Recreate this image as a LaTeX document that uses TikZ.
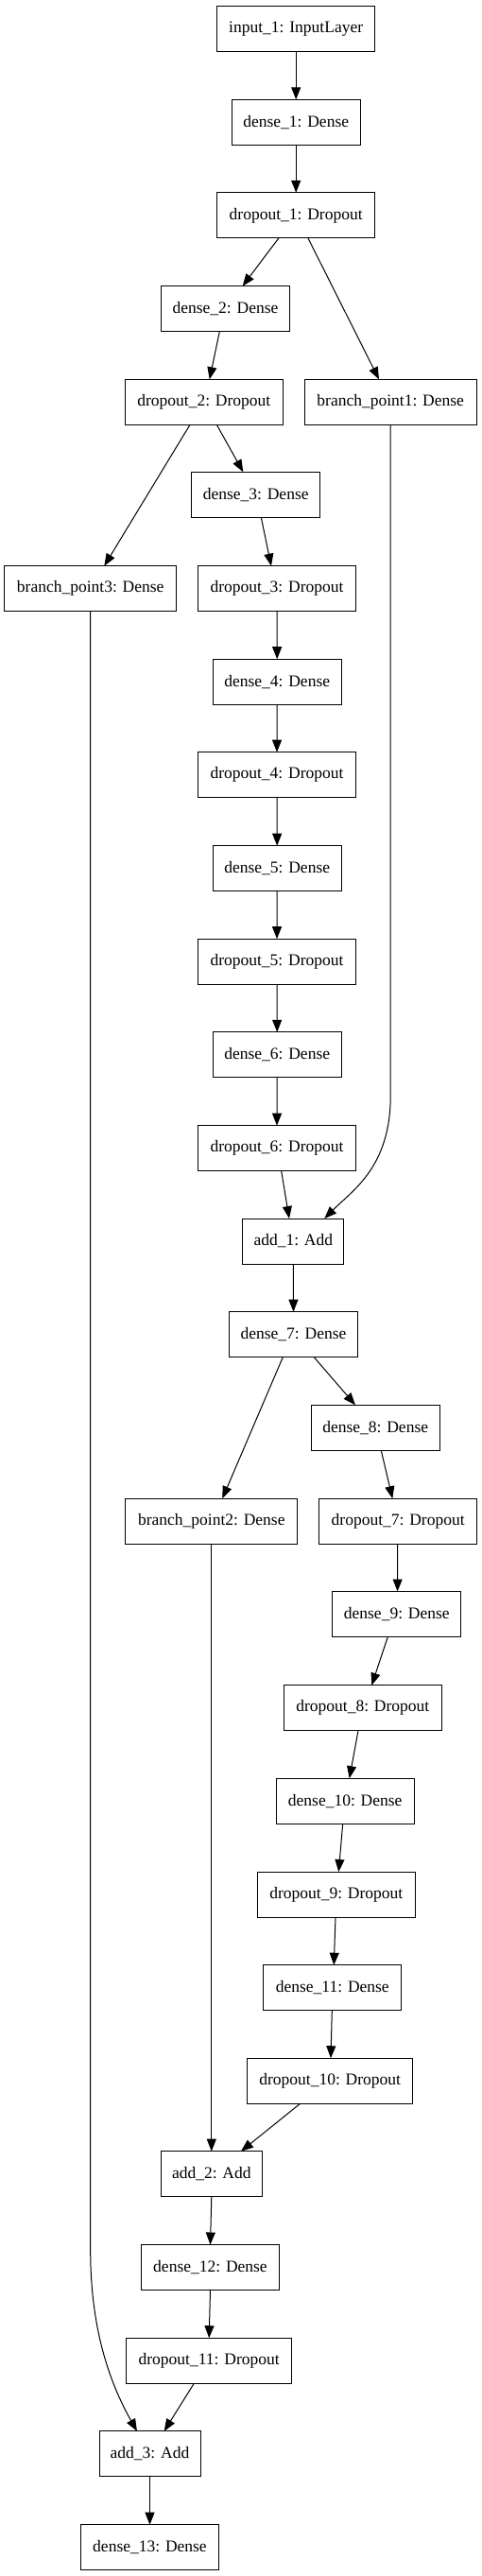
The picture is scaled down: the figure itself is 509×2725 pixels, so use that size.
\documentclass[tikz,border=0pt]{standalone}
\usepackage{fontspec}
\setmainfont{Liberation Serif}
\usetikzlibrary{arrows.meta}
\begin{document}
\begin{tikzpicture}[x=1pt,y=-1pt,
  layer/.style={draw=black, line width=1pt, rectangle, minimum height=48pt,
    inner sep=0pt, outer sep=0pt, font=\fontsize{17.5}{20}\selectfont},
  edge/.style={draw=black, line width=1pt, -{Triangle[length=13pt,width=10pt]}}]
\useasboundingbox (0,0) rectangle (509,2725);
% nodes
\node[layer, minimum width=167pt]   (input1)   at (313.2,30.3)   {input\_1: InputLayer};
\node[layer, minimum width=136.3pt] (dense1)   at (313.2,129.3)  {dense\_1: Dense};
\node[layer, minimum width=167pt]   (dropout1) at (313.2,227.8)  {dropout\_1: Dropout};
\node[layer, minimum width=136.3pt] (dense2)   at (238.5,326.7)  {dense\_2: Dense};
\node[layer, minimum width=167pt]   (dropout2) at (215.8,425.3)  {dropout\_2: Dropout};
\node[layer, minimum width=181.7pt] (bp1)      at (413.2,425.3)  {branch\_point1: Dense};
\node[layer, minimum width=136.3pt] (dense3)   at (270.7,523.3)  {dense\_3: Dense};
\node[layer, minimum width=181.7pt] (bp3)      at (95.7,622.7)   {branch\_point3: Dense};
\node[layer, minimum width=167pt]   (dropout3) at (293,622.7)    {dropout\_3: Dropout};
\node[layer, minimum width=136.3pt] (dense4)   at (293.2,721.2)  {dense\_4: Dense};
\node[layer, minimum width=167pt]   (dropout4) at (293,819.7)    {dropout\_4: Dropout};
\node[layer, minimum width=136.3pt] (dense5)   at (293.2,918.7)  {dense\_5: Dense};
\node[layer, minimum width=167pt]   (dropout5) at (293,1017.2)   {dropout\_5: Dropout};
\node[layer, minimum width=136.3pt] (dense6)   at (293.2,1115.8) {dense\_6: Dense};
\node[layer, minimum width=167pt]   (dropout6) at (293,1214.7)   {dropout\_6: Dropout};
\node[layer, minimum width=107.3pt] (add1)     at (310.3,1313)   {add\_1: Add};
\node[layer, minimum width=136.3pt] (dense7)   at (310.5,1411.7) {dense\_7: Dense};
\node[layer, minimum width=136.3pt] (dense8)   at (397.2,1510.3) {dense\_8: Dense};
\node[layer, minimum width=181.7pt] (bp2)      at (223.8,1609.2) {branch\_point2: Dense};
\node[layer, minimum width=167pt]   (dropout7) at (421.2,1609.2) {dropout\_7: Dropout};
\node[layer, minimum width=136.3pt] (dense9)   at (419.8,1707.5) {dense\_9: Dense};
\node[layer, minimum width=167pt]   (dropout8) at (383.8,1806.7) {dropout\_8: Dropout};
\node[layer, minimum width=145.7pt] (dense10)  at (365.2,1905.2) {dense\_10: Dense};
\node[layer, minimum width=167pt]   (dropout9) at (355.8,2004)   {dropout\_9: Dropout};
\node[layer, minimum width=145.7pt] (dense11)  at (351.8,2102.7) {dense\_11: Dense};
\node[layer, minimum width=175pt]   (dropout10) at (349.2,2201.2) {dropout\_10: Dropout};
\node[layer, minimum width=107pt]   (add2)     at (223.8,2299.7) {add\_2: Add};
\node[layer, minimum width=145.6pt] (dense12)  at (222.5,2398.5) {dense\_12: Dense};
\node[layer, minimum width=175pt]   (dropout11) at (221.2,2497.2) {dropout\_11: Dropout};
\node[layer, minimum width=107pt]   (add3)     at (158.5,2595.8) {add\_3: Add};
\node[layer, minimum width=145.6pt] (dense13)  at (158.5,2694.7) {dense\_13: Dense};
% edges
\draw[edge] (input1.south) -- (dense1.north);
\draw[edge] (dense1.south) -- (dropout1.north);
\draw[edge] ([xshift=-18.3pt]dropout1.south) -- ([xshift=18.2pt]dense2.north);
\draw[edge] ([xshift=12.7pt]dropout1.south) -- ([xshift=-12.2pt]bp1.north);
\draw[edge] ([xshift=-6.2pt]dense2.south) -- ([xshift=5.9pt]dropout2.north);
\draw[edge] ([xshift=-14.8pt]dropout2.south) -- ([xshift=14.6pt]bp3.north);
\draw[edge] ([xshift=13.5pt]dropout2.south) -- ([xshift=-13.4pt]dense3.north);
\draw[edge] ([xshift=5.6pt]dense3.south) -- ([xshift=-6pt]dropout3.north);
\draw[edge] (dropout3.south) -- (dense4.north);
\draw[edge] (dense4.south) -- (dropout4.north);
\draw[edge] (dropout4.south) -- (dense5.north);
\draw[edge] (dense5.south) -- (dropout5.north);
\draw[edge] (dropout5.south) -- (dense6.north);
\draw[edge] (dense6.south) -- (dropout6.north);
\draw[edge] ([xshift=4.7pt]dropout6.south) -- ([xshift=-4.3pt]add1.north);
\draw[edge] (bp1.south) -- ([yshift=-710pt]bp1.south)
  .. controls ([yshift=-785pt]bp1.south) and ([xshift=63pt,yshift=30pt]add1.north)
  .. ([xshift=33pt]add1.north);
\draw[edge] (add1.south) -- (dense7.north);
\draw[edge] ([xshift=-11.2pt]dense7.south) -- ([xshift=11.5pt]bp2.north);
\draw[edge] ([xshift=21.8pt]dense7.south) -- ([xshift=-21.2pt]dense8.north);
\draw[edge] ([xshift=6.1pt]dense8.south) -- ([xshift=-5.9pt]dropout7.north);
\draw[edge] ([xshift=-0.5pt]dropout7.south) -- ([xshift=0.8pt]dense9.north);
\draw[edge] ([xshift=-9.5pt]dense9.south) -- ([xshift=9.5pt]dropout8.north);
\draw[edge] ([xshift=-4.8pt]dropout8.south) -- ([xshift=4.5pt]dense10.north);
\draw[edge] ([xshift=-2.5pt]dense10.south) -- ([xshift=2.5pt]dropout9.north);
\draw[edge] ([xshift=-0.8pt]dropout9.south) -- ([xshift=1.5pt]dense11.north);
\draw[edge] ([xshift=-0.5pt]dense11.south) -- ([xshift=0.8pt]dropout10.north);
\draw[edge] ([xshift=-31.5pt]dropout10.south) -- ([xshift=31.2pt]add2.north);
\draw[edge] (bp2.south) -- (add2.north);
\draw[edge] (add2.south) -- (dense12.north);
\draw[edge] (dense12.south) -- (dropout11.north);
\draw[edge] ([xshift=-15.9pt]dropout11.south) -- ([xshift=15.2pt]add3.north);
\draw[edge] (bp3.south) -- ([yshift=-1733.3pt]bp3.south)
  .. controls ([yshift=-1803.3pt]bp3.south) and ([xshift=-48.5pt,yshift=61.7pt]add3.north)
  .. ([xshift=-13.5pt]add3.north);
\draw[edge] (add3.south) -- (dense13.north);
\end{tikzpicture}
\end{document}
